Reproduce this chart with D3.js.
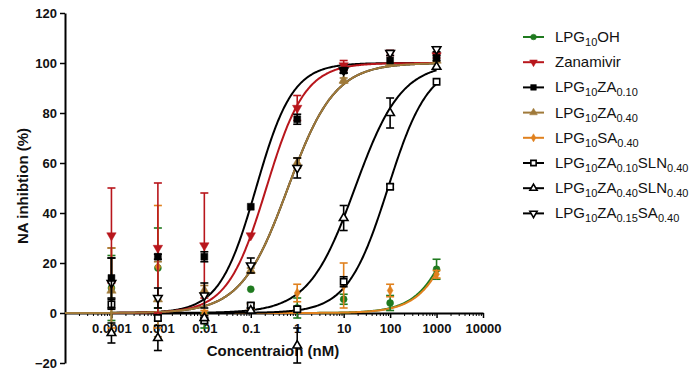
<!DOCTYPE html>
<html>
<head>
<meta charset="utf-8">
<script src="https://cdn.jsdelivr.net/npm/d3@7"></script>
<style>
body { margin: 0; background: #fff; }
svg { display: block; font-family: "Liberation Sans", Arial, sans-serif; }
</style>
</head>
<body>
<div id="chart"></div>
<script>
// concentrations (nM) and tick labels
const conc = [0.0001, 0.001, 0.01, 0.1, 1, 10, 100, 1000];
const xTickValues = [0.0001, 0.001, 0.01, 0.1, 1, 10, 100, 1000, 10000];
const xTickLabels = ["0.0001", "0.001", "0.01", "0.1", "1", "10", "100", "1000", "10000"];
const yTickValues = [-20, 0, 20, 40, 60, 80, 100, 120];

// legend labels, "_{..}" is subscript
const names = [
    "LPG_{10}OH",
    "Zanamivir",
    "LPG_{10}ZA_{0.10}",
    "LPG_{10}ZA_{0.40}",
    "LPG_{10}SA_{0.40}",
    "LPG_{10}ZA_{0.10}SLN_{0.40}",
    "LPG_{10}ZA_{0.40}SLN_{0.40}",
    "LPG_{10}ZA_{0.15}SA_{0.40}"
];

// mean inhibition (%) per concentration
const lpgOH      = [10, 18, -3, 9.5, 2, 5.5, 4, 17.5];
const zanamivir  = [31, 26, 27, 31, 82, 99, 104, 103];
const za010      = [14, 22.5, 22.5, 42.5, 77.5, 97, 101, 102];
const za040      = [9, 5.5, 9, 17, 60, 93, 100, 101];
const sa040      = [10, 18.5, 0, 2.5, 8, 11, 9, 15.5];
const za010sln   = [3.5, -2, -3, 3, 1.5, 12.5, 50.5, 92.5];
const za040sln   = [-8, -10, -2, 1, -13, 38, 80, 98.5];
const za015sa    = [12, 6, 7, 19, 58, 97, 104, 105.5];

// error (SD) per concentration
const lpgOHErr     = [13, 16, 3, 0, 4, 2, 3, 4];
const zanamivirErr = [19, 26, 21, 0, 5, 2, 1, 1];
const za010Err     = [8, 1, 2, 0, 2, 1, 0, 1];
const za040Err     = [17, 15, 2, 1, 2, 1, 0, 0];
const sa040Err     = [16, 24.5, 1, 1, 3.5, 9, 2.5, 1.5];
const za010slnErr  = [2, 1, 1, 1, 1, 2, 1, 0];
const za040slnErr  = [4, 5, 1, 1, 7, 5, 6, 0];
const za015saErr   = [10, 4, 5, 3, 4, 1, 1, 1];

// four-parameter logistic fit parameters (bottom, top, IC50 nM, hill)
const fitBottom = [0, 0, 0, 0, 0, 0, 0, 0];
const fitTop    = [100, 100, 100, 100, 100, 100, 100, 100];
const fitIC50   = [4560, 0.216, 0.13, 0.63, 5000, 90, 17.5, 0.63];
const fitHill   = [1.02, 1.04, 1.1, 0.86, 1.02, 1.0, 0.87, 0.86];

const colors = ["#1f7a1f", "#b8161c", "#000000", "#a07a3a", "#e0811e", "#000000", "#000000", "#000000"];
const shapes = ["circle", "triDown", "square", "triUp", "diamond", "square", "triUp", "triDown"];
const filled = [true, true, true, true, true, false, false, false];

const means = [lpgOH, zanamivir, za010, za040, sa040, za010sln, za040sln, za015sa];
const errs = [lpgOHErr, zanamivirErr, za010Err, za040Err, sa040Err, za010slnErr, za040slnErr, za015saErr];

const width = 700, height = 373;

const svg = d3.select("#chart").append("svg")
    .attr("width", width)
    .attr("height", height);

const x = d3.scaleLog()
    .domain([1e-5, 1e4])
    .range([65, 483]);

const y = d3.scaleLinear()
    .domain([-20, 120])
    .range([363, 13]);

// y axis
svg.append("g")
    .attr("transform", `translate(${x(1e-5)},0)`)
    .call(d3.axisLeft(y).tickValues(yTickValues).tickSize(5).tickSizeOuter(0).tickPadding(3))
    .call(g => g.select(".domain").attr("stroke-width", 2))
    .call(g => g.selectAll(".tick line").attr("stroke-width", 1.5))
    .call(g => g.selectAll("text").attr("font-size", 13).attr("font-weight", "bold").attr("fill", "#111"));

// x axis at y = 0, with minor ticks
const minor = [];
for (let e = -5; e < 4; e++) {
    for (let m = 2; m <= 9; m++) minor.push(m * Math.pow(10, e));
}
svg.append("g")
    .attr("transform", `translate(0,${y(0)})`)
    .call(d3.axisBottom(x).tickValues(minor).tickSize(3).tickSizeOuter(0).tickFormat(""))
    .call(g => g.select(".domain").attr("stroke-width", 2))
    .call(g => g.selectAll(".tick line").attr("stroke-width", 1));

svg.append("g")
    .attr("transform", `translate(0,${y(0)})`)
    .call(d3.axisBottom(x).tickValues(xTickValues).tickSize(5).tickSizeOuter(0).tickPadding(6)
        .tickFormat((d, i) => xTickLabels[i]))
    .call(g => g.select(".domain").remove())
    .call(g => g.selectAll(".tick line").attr("stroke-width", 1.5))
    .call(g => g.selectAll("text").attr("font-size", 13).attr("font-weight", "bold").attr("fill", "#111"));

// axis titles
svg.append("text")
    .attr("x", 273)
    .attr("y", 356)
    .attr("text-anchor", "middle")
    .attr("font-size", 15)
    .attr("font-weight", "bold")
    .attr("fill", "#111")
    .text("Concentraion (nM)");

svg.append("text")
    .attr("transform", "translate(28,186) rotate(-90)")
    .attr("text-anchor", "middle")
    .attr("font-size", 15)
    .attr("font-weight", "bold")
    .attr("fill", "#111")
    .text("NA inhibtion (%)");

// fitted curves
const curveXs = d3.range(-5, 3.001, 0.02).map(e => Math.pow(10, e));
const logistic = i => c => fitBottom[i] + (fitTop[i] - fitBottom[i]) / (1 + Math.pow(fitIC50[i] / c, fitHill[i]));
const line = d3.line().x(d => x(d[0])).y(d => y(d[1]));

const curveOrder = [7, 0, 4, 5, 6, 2, 1, 3];
curveOrder.forEach(i => {
    const f = logistic(i);
    svg.append("path")
        .attr("d", line(curveXs.map(c => [c, f(c)])))
        .attr("fill", "none")
        .attr("stroke", colors[i])
        .attr("stroke-width", 2);
});

function symbolPath(shape, size) {
    if (shape === "circle") return d3.symbol(d3.symbolCircle, size * 0.8)();
    if (shape === "square") return d3.symbol(d3.symbolSquare, size)();
    if (shape === "diamond") return d3.symbol(d3.symbolDiamond, size * 0.6)();
    return d3.symbol(d3.symbolTriangle, size * 0.8)();
}

function drawMarker(g, i, cx, cy, size) {
    const s = shapes[i];
    g.append("path")
        .attr("d", symbolPath(s, size))
        .attr("transform", `translate(${cx},${cy})` + (s === "triDown" ? " rotate(180)" : ""))
        .attr("fill", filled[i] ? colors[i] : "#fff")
        .attr("stroke", colors[i])
        .attr("stroke-width", filled[i] ? 0.5 : 1.6);
}

// error bars and points
const pointOrder = [0, 4, 3, 1, 5, 6, 7, 2];
pointOrder.forEach(i => {
    const g = svg.append("g");
    conc.forEach((c, j) => {
        const cx = x(c), v = means[i][j], e = errs[i][j];
        if (e > 0) {
            const lo = Math.max(v - e, -20);
            g.append("line")
                .attr("x1", cx).attr("x2", cx)
                .attr("y1", y(v + e)).attr("y2", y(lo))
                .attr("stroke", colors[i]).attr("stroke-width", 1.6);
            [v + e, lo].forEach(t => g.append("line")
                .attr("x1", cx - 4).attr("x2", cx + 4)
                .attr("y1", y(t)).attr("y2", y(t))
                .attr("stroke", colors[i]).attr("stroke-width", 1.6));
        }
        drawMarker(g, i, cx, y(v), filled[i] ? 48 : 40);
    });
});

// legend
const legend = svg.append("g");
names.forEach((name, i) => {
    const ly = 37 + i * 25.2;
    legend.append("line")
        .attr("x1", 523).attr("x2", 544)
        .attr("y1", ly).attr("y2", ly)
        .attr("stroke", colors[i]).attr("stroke-width", 2);
    drawMarker(legend, i, 533.5, ly, filled[i] ? 32 : 28);

    const t = legend.append("text")
        .attr("x", 555)
        .attr("y", ly + 5)
        .attr("font-size", 15)
        .attr("fill", "#111");
    let shift = 0;
    name.split(/(_\{[^}]*\})/).filter(p => p).forEach(p => {
        const sub = p.startsWith("_{");
        const target = sub ? 4 : 0;
        t.append("tspan")
            .attr("dy", target - shift)
            .attr("font-size", sub ? 11 : 15)
            .text(sub ? p.slice(2, -1) : p);
        shift = target;
    });
});
</script>
</body>
</html>
